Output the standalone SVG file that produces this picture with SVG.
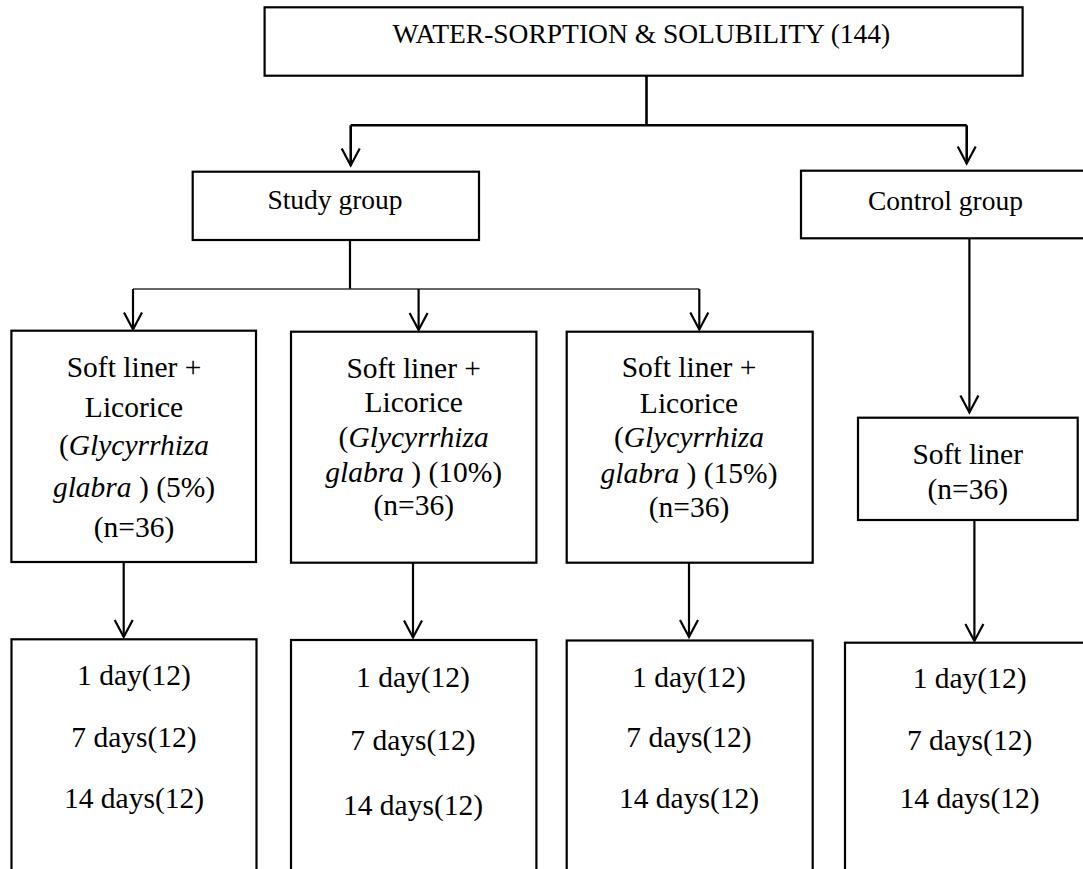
<svg xmlns="http://www.w3.org/2000/svg" width="1083" height="869" viewBox="0 0 1083 869">
<style>
.box{fill:#fff;stroke:#000;stroke-width:2.2}
.ln{fill:none;stroke:#000;stroke-width:2.2}
.thk{fill:none;stroke:#000;stroke-width:2.6}
.thin{fill:none;stroke:#333;stroke-width:1.3}
text{font-family:"Liberation Serif","Times New Roman",serif;fill:#000;text-anchor:middle}
.t27{font-size:27.5px}
.t29{font-size:29.5px}
.it{font-style:italic}
</style>
<defs>
<marker id="ah" viewBox="-20 -11 23 22" markerWidth="23" markerHeight="22" refX="0" refY="0" orient="auto" markerUnits="userSpaceOnUse" overflow="visible">
<path d="M-17,-9 L0,0 L-17,9" fill="none" stroke="#000" stroke-width="2.2"/>
</marker>
</defs>
<rect width="1083" height="869" fill="#fff"/>
<g id="connectors">
<path class="thk" d="M646.5,75.7 V125.3 M350.7,125.3 H966.7"/>
<path class="thk" d="M350.7,125.3 V165.5" marker-end="url(#ah)"/>
<path class="thk" d="M966.7,125.3 V163.5" marker-end="url(#ah)"/>
<path class="ln" d="M350,240 V289"/>
<path class="thin" d="M133,289 H699.3"/>
<path class="ln" d="M133,289 V329.5" marker-end="url(#ah)"/>
<path class="ln" d="M418.6,289 V330" marker-end="url(#ah)"/>
<path class="ln" d="M699.3,289 V329.5" marker-end="url(#ah)"/>
<path class="ln" d="M123.7,562 V637" marker-end="url(#ah)"/>
<path class="ln" d="M413,562.7 V637.5" marker-end="url(#ah)"/>
<path class="ln" d="M689,562.7 V637" marker-end="url(#ah)"/>
<path class="ln" d="M969.4,238.3 V412.5" marker-end="url(#ah)"/>
<path class="ln" d="M974.4,520 V641" marker-end="url(#ah)"/>
</g>
<g id="top">
<rect class="box" x="264.6" y="7.3" width="758" height="68.4"/>
<text class="t27" x="641.4" y="43.3">WATER-SORPTION &amp; SOLUBILITY (144)</text>
</g>
<g id="study">
<rect class="box" x="192.7" y="171.7" width="286.3" height="68.3"/>
<text class="t27" x="335" y="209">Study group</text>
</g>
<g id="control">
<rect class="box" x="801" y="170.7" width="290" height="67.6"/>
<text class="t27" x="945.5" y="210">Control group</text>
</g>
<g id="g5">
<rect class="box" x="11.4" y="330.7" width="244.6" height="231.3"/>
<text class="t29" x="134" y="376.7">Soft liner +</text>
<text class="t29" x="134" y="416.7">Licorice</text>
<text class="t29" x="134" y="455">(<tspan class="it">Glycyrrhiza</tspan></text>
<text class="t29" x="134" y="496.7"><tspan class="it">glabra</tspan> ) (5%)</text>
<text class="t29" x="134" y="537.3">(n=36)</text>
</g>
<g id="g10">
<rect class="box" x="291" y="331.7" width="245.4" height="231"/>
<text class="t29" x="413.7" y="377.7">Soft liner +</text>
<text class="t29" x="413.7" y="411.7">Licorice</text>
<text class="t29" x="413.7" y="446.7">(<tspan class="it">Glycyrrhiza</tspan></text>
<text class="t29" x="413.7" y="481.7"><tspan class="it">glabra</tspan> ) (10%)</text>
<text class="t29" x="413.7" y="515">(n=36)</text>
</g>
<g id="g15">
<rect class="box" x="566.7" y="331.7" width="246" height="231"/>
<text class="t29" x="689" y="377">Soft liner +</text>
<text class="t29" x="689" y="412.7">Licorice</text>
<text class="t29" x="689" y="447">(<tspan class="it">Glycyrrhiza</tspan></text>
<text class="t29" x="689" y="483"><tspan class="it">glabra</tspan> ) (15%)</text>
<text class="t29" x="689" y="517">(n=36)</text>
</g>
<g id="softliner">
<rect class="box" x="858" y="417.7" width="219.7" height="102.3"/>
<text class="t29" x="967.7" y="464">Soft liner</text>
<text class="t29" x="967.7" y="498.5">(n=36)</text>
</g>
<g id="d5">
<rect class="box" x="11.5" y="639.3" width="245" height="250"/>
<text class="t29" x="134" y="685">1 day(12)</text>
<text class="t29" x="134" y="746.7">7 days(12)</text>
<text class="t29" x="134" y="808.3">14 days(12)</text>
</g>
<g id="d10">
<rect class="box" x="291" y="640" width="245.4" height="250"/>
<text class="t29" x="413" y="686.7">1 day(12)</text>
<text class="t29" x="413" y="750">7 days(12)</text>
<text class="t29" x="413" y="815">14 days(12)</text>
</g>
<g id="d15">
<rect class="box" x="566.7" y="640.5" width="246" height="250"/>
<text class="t29" x="689" y="686.7">1 day(12)</text>
<text class="t29" x="689" y="746.7">7 days(12)</text>
<text class="t29" x="689" y="808.3">14 days(12)</text>
</g>
<g id="dctl">
<rect class="box" x="845" y="642.7" width="260" height="250"/>
<text class="t29" x="969.6" y="688.3">1 day(12)</text>
<text class="t29" x="969.6" y="750">7 days(12)</text>
<text class="t29" x="969.6" y="808.3">14 days(12)</text>
</g>
</svg>
